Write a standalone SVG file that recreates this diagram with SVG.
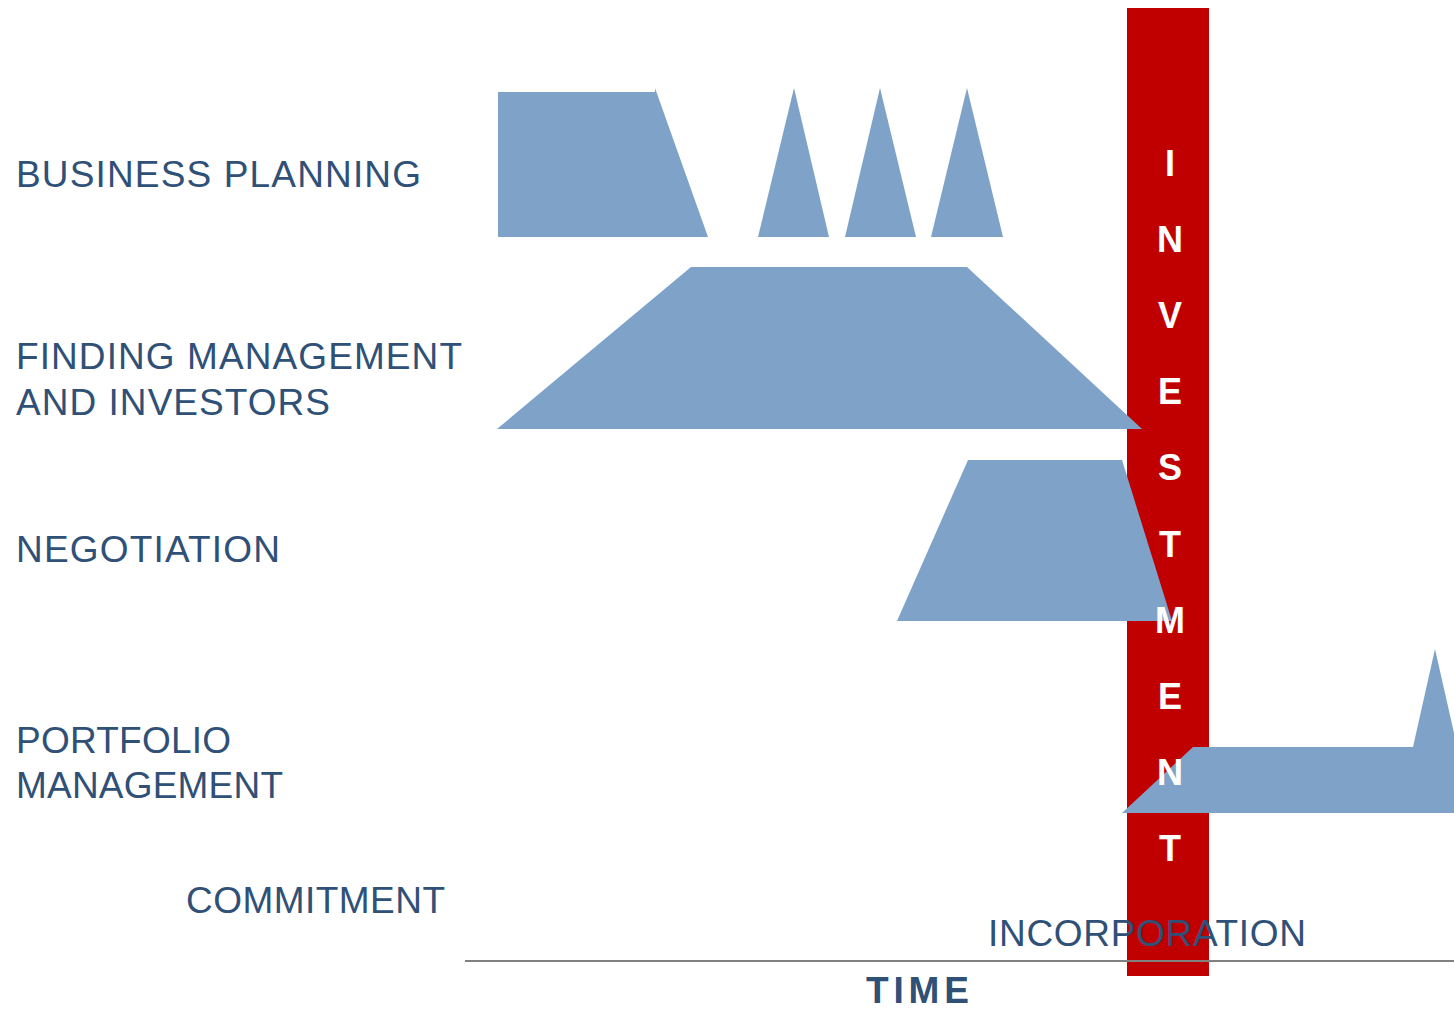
<svg xmlns="http://www.w3.org/2000/svg" width="1454" height="1009" viewBox="0 0 1454 1009">
<style>
.lbl{font-family:"Liberation Sans",Arial,sans-serif;font-size:37px;fill:#2F5077}
.shape{fill:#7FA2C8}
.inv{font-family:"Liberation Sans",Arial,sans-serif;font-size:36px;font-weight:bold;fill:#FFFFFF;text-anchor:middle}
</style>
<rect width="1454" height="1009" fill="#FFFFFF"/>
<g id="investment-bar">
<rect x="1127" y="8" width="82" height="968" fill="#C00000"/>
</g>
<g id="business-planning">
<text class="lbl" x="16" y="187" textLength="405" lengthAdjust="spacing">BUSINESS PLANNING</text>
<polygon class="shape" points="498,92 655,92 655,88 708,237 498,237"/>
<polygon class="shape" points="758,237 794,88 829,237"/>
<polygon class="shape" points="845,237 880,88 916,237"/>
<polygon class="shape" points="931,237 967,88 1003,237"/>
</g>
<g id="finding-management">
<text class="lbl" x="16" y="369" textLength="446" lengthAdjust="spacing">FINDING MANAGEMENT</text>
<text class="lbl" x="16" y="415" textLength="314" lengthAdjust="spacing">AND INVESTORS</text>
<polygon class="shape" points="497,429 691,267 967,267 1142,429"/>
</g>
<g id="negotiation">
<text class="lbl" x="16" y="562" textLength="264" lengthAdjust="spacing">NEGOTIATION</text>
<polygon class="shape" points="897,621 968,460 1122,460 1172,621"/>
</g>
<g id="portfolio-management">
<text class="lbl" x="16" y="753" textLength="215" lengthAdjust="spacing">PORTFOLIO</text>
<text class="lbl" x="16" y="798" textLength="267" lengthAdjust="spacing">MANAGEMENT</text>
<polygon class="shape" points="1122,813 1193,747 1413,747 1435,649 1454,733 1454,813"/>
</g>
<g id="investment-letters">
<text class="inv" x="1170" y="176">I</text>
<text class="inv" x="1170" y="252">N</text>
<text class="inv" x="1170" y="328">V</text>
<text class="inv" x="1170" y="404">E</text>
<text class="inv" x="1170" y="480">S</text>
<text class="inv" x="1170" y="557">T</text>
<text class="inv" x="1170" y="633">M</text>
<text class="inv" x="1170" y="709">E</text>
<text class="inv" x="1170" y="785">N</text>
<text class="inv" x="1170" y="861">T</text>
</g>
<g id="commitment">
<text class="lbl" x="186" y="913" textLength="259" lengthAdjust="spacing">COMMITMENT</text>
</g>
<g id="incorporation">
<text class="lbl" x="988" y="946" textLength="318" lengthAdjust="spacing">INCORPORATION</text>
</g>
<g id="connectors">
<line x1="465" y1="961" x2="1454" y2="961" stroke="#808080" stroke-width="2"/>
</g>
<g id="time-axis">
<text x="866" y="1003" font-family="'Liberation Sans',Arial,sans-serif" font-size="37" font-weight="bold" fill="#2F5077" textLength="103" lengthAdjust="spacing">TIME</text>
</g>
</svg>
